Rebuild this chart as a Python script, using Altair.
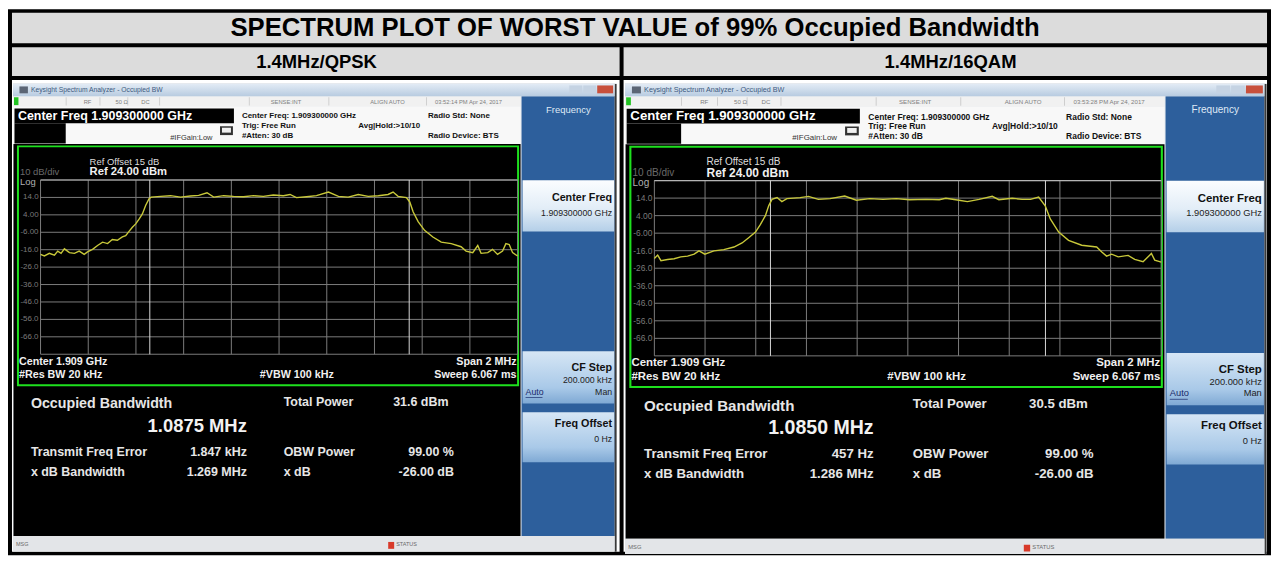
import altair as alt
import pandas as pd

# ------------------------------------------------------------------ data
TITLE = "SPECTRUM PLOT OF WORST VALUE of 99% Occupied Bandwidth"
CASE_LABELS = ["1.4MHz/QPSK", "1.4MHz/16QAM"]

qpsk_freq_mhz = [-1.000, -0.984, -0.963, -0.942, -0.928, -0.914, -0.900, -0.879, -0.858, -0.838,
                 -0.817, -0.803, -0.782, -0.761, -0.740, -0.719, -0.699, -0.678, -0.657, -0.643,
                 -0.629, -0.615, -0.601, -0.587, -0.573, -0.559, -0.545, -0.536, -0.497, -0.455,
                 -0.413, -0.372, -0.337, -0.302, -0.274, -0.232, -0.191, -0.149, -0.107, -0.066,
                 -0.024, 0.018, 0.046, 0.073, 0.115, 0.157,
                 0.207, 0.249, 0.290, 0.332, 0.374, 0.416, 0.457, 0.478, 0.499, 0.534,
                 0.548, 0.562, 0.583, 0.610, 0.645, 0.680, 0.722, 0.763, 0.784, 0.812,
                 0.833, 0.847, 0.875, 0.895, 0.916, 0.937, 0.951, 0.965, 0.979, 1.000]
qpsk_level_dbm = [-18.7, -19.6, -18.1, -19.2, -16.8, -18.1, -15.5, -17.7, -18.1, -16.8,
                  -18.7, -17.3, -15.8, -13.6, -11.7, -12.5, -10.2, -10.6, -8.7, -7.9,
                  -5.5, -3.1, -1.2, 1.5, 4.5, 9.5, 13.3, 14.2, 14.6, 15.0,
                  14.2, 14.8, 15.2, 16.7, 14.2, 15.0, 14.6, 14.4, 15.0, 14.6,
                  15.4, 15.0, 15.7, 13.9, 14.4, 15.0,
                  17.1, 14.6, 14.2, 15.7, 14.6, 15.0, 15.7, 17.1, 14.6, 13.9,
                  11.4, 5.8, 0.1, -4.9, -8.7, -11.7, -12.5, -14.3, -16.8, -17.7,
                  -13.6, -18.1, -17.7, -15.8, -18.7, -16.8, -12.5, -13.0, -17.7, -19.6]

qam16_freq_mhz = [-1.000, -0.987, -0.974, -0.948, -0.922, -0.896, -0.869, -0.843, -0.824, -0.801,
                  -0.765, -0.726, -0.686, -0.654, -0.628, -0.601, -0.582, -0.562, -0.549, -0.536,
                  -0.516, -0.497, -0.477, -0.425, -0.392, -0.353, -0.307, -0.249, -0.203, -0.150,
                  -0.098, -0.046, 0.006, 0.072, 0.124,
                  0.150, 0.202, 0.235, 0.281, 0.333, 0.359, 0.412, 0.451, 0.484, 0.516,
                  0.542, 0.562, 0.595, 0.634, 0.686, 0.745, 0.765, 0.784, 0.804, 0.830,
                  0.869, 0.895, 0.928, 0.961, 0.974, 1.000]
qam16_level_dbm = [-20.4, -18.5, -21.7, -21.0, -20.6, -19.5, -19.1, -18.0, -16.1, -18.0,
                   -16.1, -15.4, -13.9, -11.6, -8.6, -5.4, -1.1, 4.0, 9.6, 13.3,
                   14.3, 12.0, 13.7, 14.3, 15.0, 13.3, 13.7, 15.2, 12.8, 13.7,
                   13.3, 13.7, 13.1, 13.3, 13.1,
                   13.9, 12.8, 12.0, 13.3, 15.0, 13.1, 13.9, 13.3, 13.3, 14.6,
                   9.6, 2.1, -5.4, -10.1, -12.9, -13.9, -16.7, -19.1, -18.0, -19.5,
                   -18.7, -21.0, -22.3, -17.6, -21.4, -22.5]

grid_freq_mhz = [-1.0, -0.8, -0.6, -0.4, -0.2, 0.0, 0.2, 0.4, 0.6, 0.8, 1.0]
grid_level_dbm = [24, 14, 4, -6, -16, -26, -36, -46, -56, -66, -76]
level_tick_values = [14, 4, -6, -16, -26, -36, -46, -56, -66]
level_tick_labels = ["14.0", "4.00", "-6.00", "-16.0", "-26.0", "-36.0", "-46.0", "-56.0", "-66.0"]

obw_mhz = [1.0875, 1.0850]
freq_error_mhz = [0.001847, 0.000457]
obw_text = ["1.0875 MHz", "1.0850 MHz"]
freq_error_text = ["1.847 kHz", "457 Hz"]
xdb_bw_text = ["1.269 MHz", "1.286 MHz"]
total_power_text = ["31.6 dBm", "30.5 dBm"]
obw_power_text = "99.00 %"
xdb_text = "-26.00 dB"
timestamps = ["03:52:14 PM Apr 24, 2017", "03:53:28 PM Apr 24, 2017"]

# ------------------------------------------------------------------ layout
FONT = "Liberation Sans"
X0, X1, Y0, Y1 = 8, 1277, 9, 565
W, H = 1269, 549
XS = alt.Scale(domain=[X0, X1], nice=False, zero=False)
YS = alt.Scale(domain=[Y0, Y1], reverse=True, nice=False, zero=False)


def rects(rows, **kw):
    df = pd.DataFrame(rows, columns=["x", "x2", "y", "y2", "c"])
    return alt.Chart(df).mark_rect(**kw).encode(
        x=alt.X("x:Q", scale=XS, axis=None), x2="x2:Q",
        y=alt.Y("y:Q", scale=YS, axis=None), y2="y2:Q",
        color=alt.Color("c:N", scale=None))


def grad_rects(rows, stops):
    df = pd.DataFrame(rows, columns=["x", "x2", "y", "y2"])
    g = alt.LinearGradient(gradient="linear", x1=0, x2=0, y1=0, y2=1,
                           stops=[alt.GradientStop(color=c, offset=o) for o, c in stops])
    return alt.Chart(df).mark_rect(color=g).encode(
        x=alt.X("x:Q", scale=XS, axis=None), x2="x2:Q",
        y=alt.Y("y:Q", scale=YS, axis=None), y2="y2:Q")


def texts(rows, size, weight="normal", color="#000000", align="left", **kw):
    df = pd.DataFrame(rows, columns=["x", "y", "t"])
    return alt.Chart(df).mark_text(fontSize=size, fontWeight=weight, color=color, align=align,
                                   baseline="middle", font=FONT, **kw).encode(
        x=alt.X("x:Q", scale=XS, axis=None), y=alt.Y("y:Q", scale=YS, axis=None), text="t:N")


layers = []
# table frame
layers.append(rects([
    (8, 1277, 9, 564.5, "#000000"),
    (12, 1273, 12.5, 43.5, "#dcdcdc"),
    (12, 622.5, 47.5, 77, "#dcdcdc"),
    (626.5, 1273, 47.5, 77, "#dcdcdc"),
    (12, 622.5, 81, 561, "#ffffff"),
    (626.5, 1273, 81, 561, "#ffffff"),
]))
layers.append(texts([(638, 28, TITLE)], 25.8, "bold", align="center"))
layers.append(texts([(318, 63, CASE_LABELS[0]), (955, 63, CASE_LABELS[1])], 18.5, "bold", align="center"))

screens = [dict(ox=13, sx=1.0, sy=1.0), dict(ox=628, sx=1.0627, sy=1.006)]
grid_boxes = []

for i, sc in enumerate(screens):
    ox, sx, sy = sc["ox"], sc["sx"], sc["sy"]

    def TX(x):
        return ox + (x - 13) * sx

    def TY(y):
        return 85 + (y - 85) * sy

    def R(x, x2, y, y2, c):
        return (TX(x), TX(x2), TY(y), TY(y2), c)

    def T(x, y, t):
        return (TX(x), TY(y), t)

    base = [
        R(13, 619.5, 84, 560.5, "#e6eaef"),
        R(13, 523, 97.5, 108, "#f1f1f1"),
        R(14, 18.5, 98.5, 106.5, "#22c322"),
        R(66, 66.8, 98.5, 107, "#c8c8c8"), R(100, 100.8, 98.5, 107, "#c8c8c8"),
        R(128, 128.8, 98.5, 107, "#c8c8c8"), R(160, 160.8, 98.5, 107, "#c8c8c8"),
        R(250, 250.8, 98.5, 107, "#c8c8c8"), R(330, 330.8, 98.5, 107, "#c8c8c8"),
        R(428, 428.8, 98.5, 107, "#c8c8c8"),
        R(13, 523, 108, 146, "#f8f8f8"),
        R(14.5, 235, 110, 125, "#000000"),
        R(14.5, 66, 125, 145.5, "#000000"),
        R(221, 234, 128, 137, "#333333"), R(223, 232, 129.5, 134.5, "#f0f0f0"),
        R(13.5, 523, 146, 545, "#000000"),
        R(17, 521.5, 147.5, 392.5, "#1ee01e"),
        R(19, 519.5, 149.5, 390.5, "#000000"),
        R(524, 617.5, 97.5, 545, "#2d5f9c"),
        R(617.5, 619.5, 85, 561, "#3a3a3a"),
        R(13, 617.5, 545, 560.5, "#e3e5e8"),
        R(390, 396, 551, 558, "#d83a2a"),
    ]
    layers.append(rects(base))
    layers.append(grad_rects([(TX(13), TX(617.5), TY(85), TY(97.5))],
                             [(0, "#e2ebf5"), (1, "#b7cbe0")]))
    layers.append(grad_rects([(TX(525), TX(617), TY(183), TY(235))],
                             [(0, "#fbfdff"), (0.55, "#e2edf7"), (1, "#b4cfe8")]))
    layers.append(grad_rects([(TX(525), TX(617), TY(357), TY(410)), (TX(525), TX(617), TY(419), TY(470))],
                             [(0, "#d6e6f5"), (0.7, "#a9c9e8"), (1, "#7fa9d4")]))
    layers.append(rects([
        R(19.5, 28, 87.5, 94.5, "#5b6575"),
        R(572, 585, 86.5, 94.5, "#c5d3e3"),
        R(586, 599, 86.5, 94.5, "#c5d3e3"),
        R(600, 616, 86.5, 94.5, "#c8503c"),
        R(528, 545, 403.5, 404.2, "#1a2a6a"),
    ]))

    f = sx
    layers.append(texts([T(31, 91, "Keysight Spectrum Analyzer - Occupied BW")], 6.8 * f, color="#3d5a80"))
    layers.append(texts([T(84, 103, "RF"), T(116, 103, "50 Ω"), T(142, 103, "DC"),
                         T(272, 103, "SENSE:INT"), T(372, 103, "ALIGN AUTO"), T(437, 103, timestamps[i])],
                        5.8 * f, color="#808080"))
    layers.append(texts([T(18, 117.7, "Center Freq 1.909300000 GHz")], 12.5 * f, "bold", "#ffffff"))
    layers.append(texts([T(171, 139.5, "#IFGain:Low")], 7.5 * f, color="#333333"))
    layers.append(texts([T(243, 118, "Center Freq: 1.909300000 GHz"), T(243, 128, "Trig: Free Run"),
                         T(243, 138, "#Atten: 30 dB"), T(360, 128, "Avg|Hold:>10/10"),
                         T(430, 118, "Radio Std: None"), T(430, 137.5, "Radio Device: BTS")],
                        8 * f, "bold", "#111111"))
    layers.append(texts([T(90, 164, "Ref Offset 15 dB")], 9.5 * f, color="#dddddd"))
    layers.append(texts([T(90, 175, "Ref 24.00 dBm")], 11.3 * f, "bold", "#f0f0f0"))
    layers.append(texts([T(20, 175, "10 dB/div")], 9.5 * f, color="#6a6a6a"))
    layers.append(texts([T(20, 185, "Log")], 9.5 * f, color="#b0b0b0"))
    layers.append(texts([T(19, 367.5, "Center  1.909 GHz"), T(19, 381, "#Res BW  20 kHz"),
                         T(261, 381, "#VBW  100 kHz")], 10.8 * f, "bold", "#f0f0f0"))
    layers.append(texts([T(519, 367.5, "Span 2 MHz"), T(519, 381, "Sweep  6.067 ms")],
                        10.8 * f, "bold", "#f0f0f0", align="right"))
    layers.append(texts([T(31, 411, "Occupied Bandwidth")], 14.3 * f, "bold", "#e6e6e6"))
    layers.append(texts([T(248, 433, obw_text[i])], 18.5 * f, "bold", "#f2f2f2", align="right"))
    layers.append(texts([T(31, 459, "Transmit Freq Error"), T(31, 480, "x dB Bandwidth"),
                         T(285, 409, "Total Power"), T(285, 459, "OBW Power"), T(285, 480, "x dB"),
                         T(395, 409, total_power_text[i])], 12.5 * f, "bold", "#e6e6e6"))
    layers.append(texts([T(248, 459, freq_error_text[i]), T(248, 480, xdb_bw_text[i]),
                         T(456, 459, obw_power_text), T(456, 480, xdb_text)],
                        12.5 * f, "bold", "#e6e6e6", align="right"))
    layers.append(texts([T(571, 111, "Frequency")], 9.5 * f, color="#dfe9f5", align="center"))
    layers.append(texts([T(615, 201, "Center Freq"), T(615, 374, "CF Step"), T(615, 431, "Freq Offset")],
                        10.8 * f, "bold", "#111111", align="right"))
    layers.append(texts([T(615, 216, "1.909300000 GHz"), T(615, 386, "200.000 kHz"),
                         T(615, 398, "Man"), T(615, 446, "0 Hz")], 8.8 * f, color="#222222", align="right"))
    layers.append(texts([T(528, 398, "Auto")], 8.8 * f, color="#1a2a6a"))
    layers.append(texts([T(16, 553, "MSG"), T(398, 553, "STATUS")], 5.5 * f, color="#6a6a6a"))

    grid_boxes.append((TX(40.7), TX(520), TY(182.7), TY(360)))

deco = alt.layer(*layers)


def spectrum_panel(freq, level, box, err, obw, fsize):
    gx0, gx1, gy0, gy1 = box
    span = grid_freq_mhz[-1] - grid_freq_mhz[0]
    rng = grid_level_dbm[0] - grid_level_dbm[-1]
    s = span / (gx1 - gx0)
    t = rng / (gy1 - gy0)
    xp = alt.Scale(domain=[grid_freq_mhz[0] - (gx0 - X0) * s, grid_freq_mhz[-1] + (X1 - gx1) * s],
                   nice=False, zero=False)
    yp = alt.Scale(domain=[grid_level_dbm[-1] - (Y1 - gy1) * t, grid_level_dbm[0] + (gy0 - Y0) * t],
                   nice=False, zero=False)
    vlines = pd.DataFrame({"f": grid_freq_mhz, "top": grid_level_dbm[0], "bot": grid_level_dbm[-1]})
    hlines = pd.DataFrame({"l": grid_level_dbm, "a": grid_freq_mhz[0], "b": grid_freq_mhz[-1]})
    marks = pd.DataFrame({"f": [err - obw / 2, err + obw / 2],
                          "top": grid_level_dbm[0], "bot": grid_level_dbm[-1]})
    top_line = pd.DataFrame({"l": [grid_level_dbm[0]], "a": [grid_freq_mhz[0]], "b": [grid_freq_mhz[-1]]})
    ticks = pd.DataFrame({"l": level_tick_values, "t": level_tick_labels, "a": grid_freq_mhz[0]})
    trace = pd.DataFrame({"f": freq, "l": level})
    X = lambda fld: alt.X(fld, scale=xp, axis=None)
    Y = lambda fld: alt.Y(fld, scale=yp, axis=None)
    return alt.layer(
        alt.Chart(vlines).mark_rule(color="#7c7c7c", strokeWidth=1).encode(x=X("f:Q"), y=Y("top:Q"), y2="bot:Q"),
        alt.Chart(hlines).mark_rule(color="#7c7c7c", strokeWidth=1).encode(y=Y("l:Q"), x=X("a:Q"), x2="b:Q"),
        alt.Chart(top_line).mark_rule(color="#b4b4b4", strokeWidth=1.2).encode(y=Y("l:Q"), x=X("a:Q"), x2="b:Q"),
        alt.Chart(marks).mark_rule(color="#d8d8d8", strokeWidth=1).encode(x=X("f:Q"), y=Y("top:Q"), y2="bot:Q"),
        alt.Chart(ticks).mark_text(align="right", baseline="middle", dx=-2, fontSize=fsize, font=FONT,
                                   color="#7a7a7a").encode(x=X("a:Q"), y=Y("l:Q"), text="t:N"),
        alt.Chart(trace).mark_line(color="#c8c83a", strokeWidth=1.4).encode(x=X("f:Q"), y=Y("l:Q"),
                                                                            order="f:Q"),
    )


p1 = spectrum_panel(qpsk_freq_mhz, qpsk_level_dbm, grid_boxes[0], freq_error_mhz[0], obw_mhz[0], 8)
p2 = spectrum_panel(qam16_freq_mhz, qam16_level_dbm, grid_boxes[1], freq_error_mhz[1], obw_mhz[1], 8.5)

chart = alt.layer(deco, p1, p2).resolve_scale(x="independent", y="independent").properties(
    width=W, height=H, padding=0, background="#ffffff"
).configure_view(stroke=None)

chart.save("out.html", embed_options={"renderer": "svg", "actions": False})
